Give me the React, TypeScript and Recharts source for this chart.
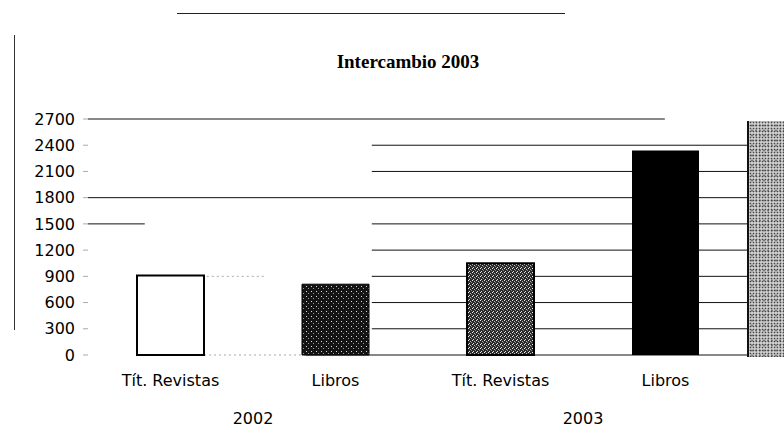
import React from 'react';
import { BarChart, Bar, XAxis, YAxis, Cell, ReferenceLine } from 'recharts';

const categories = ['Tít. Revistas', 'Libros', 'Tít. Revistas', 'Libros'];
const years = ['2002', '2002', '2003', '2003'];
const values = [910, 810, 1050, 2340];
const yTicks = [0, 300, 600, 900, 1200, 1500, 1800, 2100, 2400, 2700];
const title = 'Intercambio 2003';

const data = categories.map((c, i) => ({ cat: c, year: years[i], value: values[i] }));

const barStyles = [
  { fill: '#ffffff', stroke: '#000', strokeWidth: 2 },
  { fill: 'url(#speckDark)', stroke: '#000', strokeWidth: 1 },
  { fill: 'url(#speckMid)', stroke: '#000', strokeWidth: 2 },
  { fill: '#000000', stroke: '#000', strokeWidth: 0 },
];

// partial grid segments (fractions of plot width), mimicking the scanned reference
type Seg = [number, number, boolean];
const gridSpec: Record<number, Seg[]> = {
  2700: [[0, 0.874, true]],
  2400: [[0.43, 1, true]],
  2100: [[0.43, 1, true]],
  1800: [[0, 1, true]],
  1500: [[0, 0.086, true], [0.43, 1, true]],
  1200: [[0.43, 1, true]],
  900: [[0.18, 0.27, false], [0.43, 1, true]],
  600: [[0.43, 1, true]],
  300: [[0.43, 1, true]],
  0: [[0.1, 0.33, false], [0.33, 1, true]],
};

const makeShape = (v: number) => (props: any) => {
  const x1 = Number(props.x1);
  const x2 = Number(props.x2);
  const y = Number(props.y1);
  const w = x2 - x1;
  return (
    <g>
      {(gridSpec[v] || []).map(([a, b, solid], i) => (
        <line
          key={i}
          x1={x1 + a * w}
          x2={x1 + b * w}
          y1={y}
          y2={y}
          stroke={solid ? '#111' : '#aaa'}
          strokeWidth={1}
          strokeDasharray={solid ? undefined : '2 3'}
        />
      ))}
    </g>
  );
};

export default function App() {
  return (
    <div style={{ position: 'absolute', left: 0, top: 0, width: 784, height: 428, background: '#fff', overflow: 'hidden' }}>
      <div style={{ position: 'absolute', left: 177, top: 13, width: 388, height: 1, background: '#222' }} />
      <div style={{ position: 'absolute', left: 14, top: 35, width: 1, height: 295, background: '#333' }} />
      <div
        style={{
          position: 'absolute',
          left: 308,
          top: 51,
          width: 200,
          textAlign: 'center',
          fontFamily: '"Liberation Serif", serif',
          fontWeight: 'bold',
          fontSize: 19,
          lineHeight: '22px',
          color: '#000',
        }}
      >
        {title}
      </div>
      <div
        style={{
          position: 'absolute',
          left: 749,
          top: 121,
          width: 35,
          height: 236,
          backgroundColor: '#cfcfcf',
          backgroundImage:
            'radial-gradient(#444 0.7px, transparent 1.1px), radial-gradient(#777 0.7px, transparent 1.1px)',
          backgroundSize: '3px 3px, 4px 5px',
          backgroundPosition: '0 0, 1px 2px',
        }}
      />
      <BarChart
        width={784}
        height={428}
        data={data}
        margin={{ top: 119, right: 36, bottom: 0, left: 0 }}
        style={{ position: 'absolute', left: 0, top: 0 }}
      >
        <defs>
          <pattern id="speckDark" width="5" height="5" patternUnits="userSpaceOnUse">
            <rect width="5" height="5" fill="#141414" />
            <rect x="1" y="1" width="1" height="1" fill="#ddd" />
            <rect x="3" y="3" width="1" height="1" fill="#999" />
          </pattern>
          <pattern id="speckMid" width="4" height="4" patternUnits="userSpaceOnUse">
            <rect width="4" height="4" fill="#2a2a2a" />
            <rect x="0" y="0" width="1" height="1" fill="#eee" />
            <rect x="2" y="1" width="1" height="1" fill="#bbb" />
            <rect x="1" y="3" width="1" height="1" fill="#ddd" />
            <rect x="3" y="2" width="1" height="1" fill="#888" />
          </pattern>
        </defs>
        <XAxis
          dataKey="cat"
          axisLine={false}
          tickLine={false}
          tickSize={4}
          tickMargin={16}
          height={38}
          interval={0}
          tick={{ fontFamily: '"DejaVu Sans", sans-serif', fontSize: 16, fill: '#000' }}
        />
        <XAxis
          xAxisId="year"
          dataKey="year"
          allowDuplicatedCategory={false}
          axisLine={false}
          tickLine={false}
          tickMargin={14}
          height={35}
          interval={0}
          tick={{ fontFamily: '"DejaVu Sans", sans-serif', fontSize: 16, fill: '#000' }}
        />
        <YAxis
          domain={[0, 2700]}
          ticks={yTicks}
          interval={0}
          width={88}
          axisLine={false}
          tickLine={{ stroke: '#aaa' }}
          tickSize={5}
          tickMargin={8}
          tick={{ fontFamily: '"DejaVu Sans", sans-serif', fontSize: 16, fill: '#000' }}
        />
        {yTicks.map((v) => (
          <ReferenceLine key={v} y={v} shape={makeShape(v)} zIndex={0} />
        ))}
        <Bar dataKey="value" barSize={67} isAnimationActive={false}>
          {data.map((d, i) => (
            <Cell key={i} fill={barStyles[i].fill} stroke={barStyles[i].stroke} strokeWidth={barStyles[i].strokeWidth} />
          ))}
        </Bar>
      </BarChart>
      <div style={{ position: 'absolute', left: 747, top: 121, width: 2, height: 236, background: '#111' }} />
    </div>
  );
}
